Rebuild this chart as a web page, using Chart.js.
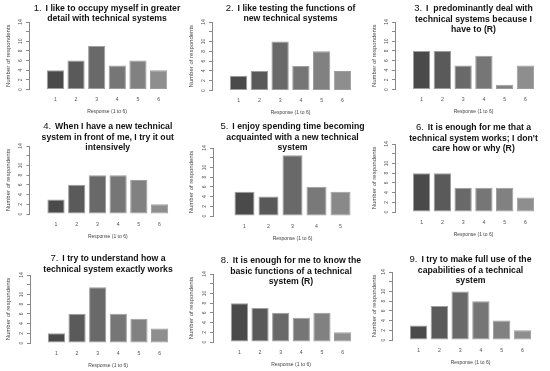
<!DOCTYPE html>
<html>
<head>
<meta charset="utf-8">
<script src="https://cdn.jsdelivr.net/npm/chart.js@4.4.1/dist/chart.umd.min.js"></script>
<style>
  html, body { margin: 0; padding: 0; background: #fff; }
  #wrap { position: relative; width: 550px; height: 371px; overflow: hidden; }
  #wrap canvas { position: absolute; }
</style>
</head>
<body>
<div id="wrap"></div>
<script>
// responses on the 1..6 scale (item 5 only has answers 1..5)
const responses6 = [1, 2, 3, 4, 5, 6];
const responses5 = [1, 2, 3, 4, 5];

// number of respondents per answer
const q1 = [4, 6, 9, 5, 6, 4];
const q2 = [3, 4, 10, 5, 8, 4];
const q3 = [8, 8, 5, 7, 1, 5];
const q4 = [3, 6, 8, 8, 7, 2];
const q5 = [5, 4, 12.5, 6, 5];
const q6 = [8, 8, 5, 5, 5, 3];
const q7 = [2, 6, 11.5, 6, 5, 3];
const q8 = [8, 7, 6, 5, 6, 2];
const q9 = [3, 7, 10, 8, 4, 2];

const yTicks = [0, 2, 4, 6, 8, 10, 12, 14];

const titles = [
  ['I like to occupy myself in greater', 'detail with technical systems'],
  ['I like testing the functions of', 'new technical systems'],
  ['I  predominantly deal with', 'technical systems because I', 'have to (R)'],
  ['When I have a new technical', 'system in front of me, I try it out', 'intensively'],
  ['I enjoy spending time becoming', 'acquainted with a new technical', 'system'],
  ['It is enough for me that a', 'technical system works; I don\'t', 'care how or why (R)'],
  ['I try to understand how a', 'technical system exactly works'],
  ['It is enough for me to know the', 'basic functions of a technical', 'system (R)'],
  ['I try to make full use of the', 'capabilities of a technical', 'system']
];

const series = [q1, q2, q3, q4, q5, q6, q7, q8, q9];
const cats = [responses6, responses6, responses6, responses6, responses5, responses6, responses6, responses6, responses6];

// where each small plot sits (px): canvas origin, plot box, first title line
const panels = [
  { x: 0,   y: 0,   h: 120, axis: 29,   top: 22, bottom: 89.5, right: 185, ty: 8.5 },
  { x: 183, y: 0,   h: 120, axis: 29,   top: 22, bottom: 90.5, right: 186, ty: 8.5 },
  { x: 366, y: 0,   h: 120, axis: 29,   top: 22, bottom: 89.5, right: 186, ty: 9 },
  { x: 0,   y: 120, h: 124, axis: 29.5, top: 26, bottom: 94,   right: 186, ty: 7 },
  { x: 183, y: 120, h: 124, axis: 30,   top: 28, bottom: 96,   right: 189, ty: 7 },
  { x: 366, y: 120, h: 124, axis: 29,   top: 24, bottom: 92,   right: 186, ty: 8 },
  { x: 0,   y: 244, h: 127, axis: 30,   top: 31, bottom: 99,   right: 186, ty: 15 },
  { x: 183, y: 244, h: 127, axis: 30,   top: 30, bottom: 98,   right: 186, ty: 17 },
  { x: 366, y: 244, h: 127, axis: 26,   top: 28, bottom: 96,   right: 183, ty: 16 }
];

const greys6 = ['#4a4a4a', '#5a5a5a', '#696969', '#767676', '#818181', '#8e8e8e'];
const greys5 = ['#4a4a4a', '#595959', '#696969', '#797979', '#898989'];
const FONT = '"Liberation Sans", Arial, sans-serif';
const W = 190;

// title drawn above the plot, centred on the plot box, may run into it like in R
const panelTitle = {
  id: 'panelTitle',
  afterDraw(chart, args, opts) {
    const ctx = chart.ctx;
    const a = chart.chartArea;
    const cx = (a.left + a.right) / 2;
    ctx.save();
    ctx.fillStyle = '#111';
    ctx.textBaseline = 'middle';
    opts.lines.forEach(function (line, i) {
      const y = opts.y + i * 10.5;
      ctx.font = 'bold 8.7px ' + FONT;
      const tw = ctx.measureText(line).width;
      if (i === 0) {
        const num = opts.num + '.';
        ctx.font = '9.5px ' + FONT;
        const nw = ctx.measureText(num).width + 4;
        const x0 = cx - (nw + tw) / 2;
        ctx.textAlign = 'left';
        ctx.fillText(num, x0, y - 0.5);
        ctx.font = 'bold 8.7px ' + FONT;
        ctx.fillText(line, x0 + nw, y);
      } else {
        ctx.textAlign = 'center';
        ctx.fillText(line, cx, y);
      }
    });
    ctx.restore();
  }
};

const wrap = document.getElementById('wrap');

panels.forEach(function (p, i) {
  const canvas = document.createElement('canvas');
  canvas.width = W;
  canvas.height = p.h;
  canvas.style.left = p.x + 'px';
  canvas.style.top = p.y + 'px';
  wrap.appendChild(canvas);

  const xs = cats[i];
  const greys = xs.length === 5 ? greys5 : greys6;
  const respY = p.bottom + 22.5;

  new Chart(canvas.getContext('2d'), {
    type: 'bar',
    data: {
      datasets: [{
        data: xs.map(function (c, j) { return { x: c, y: series[i][j] }; }),
        backgroundColor: greys,
        borderColor: 'rgba(40,40,40,0.45)',
        borderWidth: 1,
        borderSkipped: false,
        categoryPercentage: 1,
        barPercentage: 1 / 1.2
      }]
    },
    options: {
      responsive: false,
      animation: false,
      devicePixelRatio: 1,
      layout: { padding: { top: p.top, left: 0, right: W - p.right, bottom: 0 } },
      plugins: {
        legend: { display: false },
        tooltip: { enabled: false },
        panelTitle: { lines: titles[i], num: i + 1, y: p.ty }
      },
      scales: {
        x: {
          type: 'linear',
          min: 0.35,
          max: xs.length + 0.65,
          afterBuildTicks: function (s) { s.ticks = xs.map(function (v) { return { value: v }; }); },
          afterFit: function (s) { s.height = p.h - p.bottom; },
          grid: { display: false, drawTicks: false },
          border: { display: false },
          ticks: { color: '#555', font: { family: FONT, size: 5.2 }, padding: 7, maxRotation: 0 },
          title: {
            display: true,
            text: 'Response (1 to 6)',
            color: '#444',
            font: { family: FONT, size: 5 },
            padding: { top: 0, bottom: p.h - respY - 3 }
          }
        },
        y: {
          min: 0,
          max: 14,
          afterBuildTicks: function (s) { s.ticks = yTicks.map(function (v) { return { value: v }; }); },
          afterFit: function (s) { s.width = p.axis; },
          grid: { drawOnChartArea: false, drawTicks: true, tickLength: 3, color: '#888' },
          border: { display: true, color: '#888' },
          ticks: {
            color: '#555',
            font: { family: FONT, size: 5 },
            minRotation: 90,
            maxRotation: 90,
            crossAlign: 'center',
            padding: 3,
            callback: function (v) { return v === 12 ? '' : v; }
          },
          title: {
            display: true,
            text: 'Number of respondents',
            color: '#444',
            font: { family: FONT, size: 6 },
            padding: { top: 4.4, bottom: 0 }
          }
        }
      }
    },
    plugins: [panelTitle]
  });
});
</script>
</body>
</html>
